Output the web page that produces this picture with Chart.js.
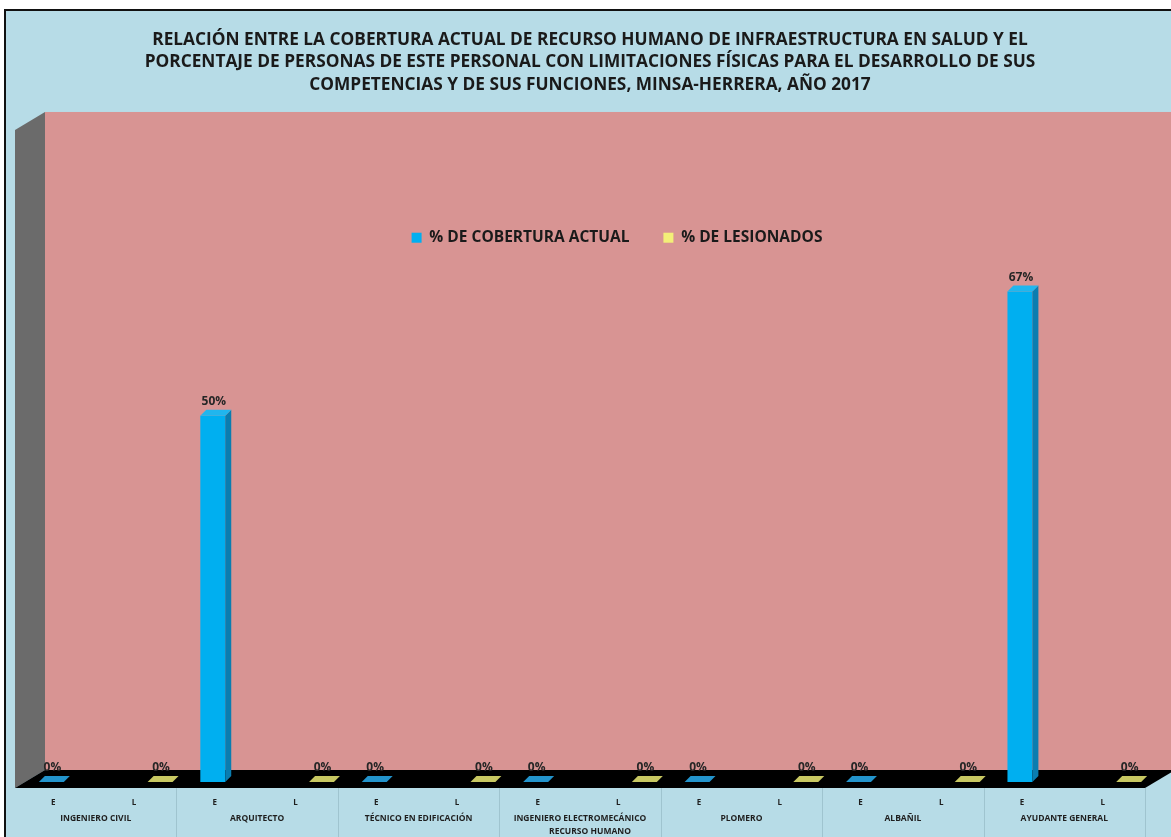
<!DOCTYPE html>
<html>
<head>
<meta charset="utf-8">
<script src="https://cdn.jsdelivr.net/npm/chart.js@4.4.0/dist/chart.umd.min.js"></script>
<style>
  html, body { margin: 0; padding: 0; background: #fff; }
  canvas { display: block; }
</style>
</head>
<body>
<canvas id="chart-cobertura" width="1171" height="837"></canvas>
<script>
const title_lines = [
  'RELACIÓN ENTRE LA COBERTURA ACTUAL DE RECURSO HUMANO DE INFRAESTRUCTURA EN SALUD Y EL',
  'PORCENTAJE DE PERSONAS DE ESTE PERSONAL CON LIMITACIONES FÍSICAS PARA EL DESARROLLO DE SUS',
  'COMPETENCIAS Y DE SUS FUNCIONES, MINSA-HERRERA, AÑO 2017'
];

const groups = [
  'INGENIERO CIVIL',
  'ARQUITECTO',
  'TÉCNICO EN EDIFICACIÓN',
  'INGENIERO ELECTROMECÁNICO',
  'PLOMERO',
  'ALBAÑIL',
  'AYUDANTE GENERAL'
];
const sub_labels = ['E', 'L'];

// E rows carry the coverage, L rows the injured share; other cells stay blank
const cobertura  = [0, null, 0.50, null, 0, null, 0, null, 0, null, 0, null, 0.67, null];
const lesionados = [null, 0, null, 0, null, 0, null, 0, null, 0, null, 0, null, 0];

const series_names = ['% DE COBERTURA ACTUAL', '% DE LESIONADOS'];
const axis_title = 'RECURSO HUMANO';

const labels = [];
groups.forEach(() => sub_labels.forEach(s => labels.push(s)));

const FONT = "'Open Sans', 'DejaVu Sans', sans-serif";
const SHIFT = 10;       // bars stand this far behind the front edge of the floor
const DEPTH_X = 30;     // floor depth, horizontal part
const DEPTH_Y = 18;     // floor depth, vertical part
const BAR_DEPTH = 6;    // depth of each column

function polygon(ctx, pts, color) {
  ctx.beginPath();
  ctx.moveTo(pts[0][0], pts[0][1]);
  for (let i = 1; i < pts.length; i++) ctx.lineTo(pts[i][0], pts[i][1]);
  ctx.closePath();
  ctx.fillStyle = color;
  ctx.fill();
}

const face_colors = [
  { side: '#0a7db0', top: '#20b6ee', flat: '#2394cc' },
  { side: '#b5b54c', top: '#f6f28a', flat: '#c8c862' }
];

const excel3d = {
  id: 'excel3d',
  afterLayout(chart) {
    // the legend floats inside the plot, a bit right of centre
    const lg = chart.legend;
    lg.top = chart.chartArea.top + 73;
    lg.bottom = lg.top + 60;
    lg.left += 54;
  },
  beforeDraw(chart) {
    const { ctx, width, height, chartArea: a } = chart;
    ctx.save();
    ctx.fillStyle = '#ffffff';
    ctx.fillRect(0, 0, width, height);
    ctx.fillStyle = '#b7dce7';
    ctx.fillRect(5, 10, width, height);
    ctx.strokeStyle = '#111';
    ctx.lineWidth = 2;
    ctx.beginPath();
    ctx.moveTo(5, height);
    ctx.lineTo(5, 10);
    ctx.lineTo(width, 10);
    ctx.stroke();

    const fx = a.left - SHIFT, fy = a.bottom + 6;
    const bx = fx + DEPTH_X, by = fy - DEPTH_Y;
    const top = a.top - 11;
    // back wall
    ctx.fillStyle = '#d89493';
    ctx.fillRect(bx, top, width - bx, by - top);
    // side wall
    polygon(ctx, [[fx, top + DEPTH_Y], [bx, top], [bx, by], [fx, fy]], '#6b6b6b');
    ctx.restore();
  },
  beforeDatasetsDraw(chart) {
    const { ctx, height, chartArea: a } = chart;
    const fx = a.left - SHIFT, fy = a.bottom + 6;
    const rx = a.right - SHIFT;
    ctx.save();
    // group separators below the floor
    const x2 = chart.scales.x2;
    const half = (x2.getPixelForTick(1) - x2.getPixelForTick(0)) / 2;
    ctx.strokeStyle = '#9fc4cf';
    ctx.lineWidth = 1;
    for (let i = 0; i < groups.length; i++) {
      const x = Math.round(x2.getPixelForTick(i) + half - SHIFT) + 0.5;
      ctx.beginPath();
      ctx.moveTo(x, fy);
      ctx.lineTo(x, height);
      ctx.stroke();
    }
    // floor
    polygon(ctx, [[fx, fy], [fx + DEPTH_X, fy - DEPTH_Y],
      [rx + DEPTH_X, fy - DEPTH_Y], [rx, fy]], '#000000');
    ctx.restore();
  },
  afterDatasetsDraw(chart) {
    const { ctx } = chart;
    const d = BAR_DEPTH;
    ctx.save();
    chart.data.datasets.forEach((ds, di) => {
      const meta = chart.getDatasetMeta(di);
      const c = face_colors[di];
      meta.data.forEach((bar, i) => {
        const v = ds.data[i];
        if (v === null || v === undefined) return;
        const { x, y, base, width } = bar.getProps(['x', 'y', 'base', 'width'], true);
        const l = x - width / 2, r = x + width / 2;
        if (v > 0) {
          polygon(ctx, [[r, y], [r + d, y - d], [r + d, base - d], [r, base]], c.side);
          polygon(ctx, [[l, y], [l + d, y - d], [r + d, y - d], [r, y]], c.top);
        } else {
          polygon(ctx, [[l, base], [l + d, base - d], [r + d, base - d], [r, base]], c.flat);
        }
        ctx.fillStyle = '#262626';
        ctx.font = 'bold 12px ' + FONT;
        ctx.textAlign = 'center';
        ctx.textBaseline = 'middle';
        ctx.fillText(Math.round(v * 100) + '%', x + 1, y - 14);
      });
    });
    ctx.restore();
  }
};

const ctx = document.getElementById('chart-cobertura');
new Chart(ctx, {
  type: 'bar',
  plugins: [excel3d],
  data: {
    labels: labels,
    datasets: [
      { label: series_names[0], data: cobertura, backgroundColor: '#00aff0' },
      { label: series_names[1], data: lesionados, backgroundColor: '#f3ef78' }
    ]
  },
  options: {
    responsive: false,
    animation: false,
    layout: { padding: { left: 15 + SHIFT, right: 26 - SHIFT, top: 0, bottom: 0 } },
    datasets: {
      bar: { categoryPercentage: 0.694, barPercentage: 0.89 }
    },
    scales: {
      x: {
        position: 'bottom',
        grid: { display: false, drawTicks: false },
        border: { display: false },
        ticks: {
          color: '#1e1e1e',
          font: { family: FONT, size: 8, weight: 'bold' },
          padding: 15.6,
          labelOffset: -12,
          maxRotation: 0,
          autoSkip: false
        },
        afterFit: scale => { scale.height = 26; }
      },
      x2: {
        type: 'category',
        labels: groups,
        position: 'bottom',
        grid: { display: false, drawTicks: false },
        border: { display: false },
        ticks: {
          color: '#1e1e1e',
          font: { family: FONT, size: 8.5, weight: 'bold' },
          padding: 5.6,
          labelOffset: -SHIFT,
          maxRotation: 0,
          autoSkip: false
        },
        title: {
          display: true,
          text: axis_title,
          color: '#1e1e1e',
          font: { family: FONT, size: 8.5, weight: 'bold' },
          padding: 0
        },
        afterFit: scale => { scale.height = 29; }
      },
      y: { display: false, min: 0, max: 0.9 }
    },
    plugins: {
      title: {
        display: true,
        text: title_lines,
        color: '#1a1a1a',
        font: { family: FONT, size: 17.3, weight: 'bold', lineHeight: 1.3 },
        padding: { top: 28.75, bottom: 6.75 }
      },
      legend: {
        position: 'top',
        align: 'center',
        maxHeight: 20,
        labels: {
          boxWidth: 10,
          boxHeight: 10,
          padding: 34,
          color: '#1a1a1a',
          font: { family: FONT, size: 15.5, weight: 'bold' }
        }
      },
      tooltip: { enabled: false }
    }
  }
});
</script>
</body>
</html>
